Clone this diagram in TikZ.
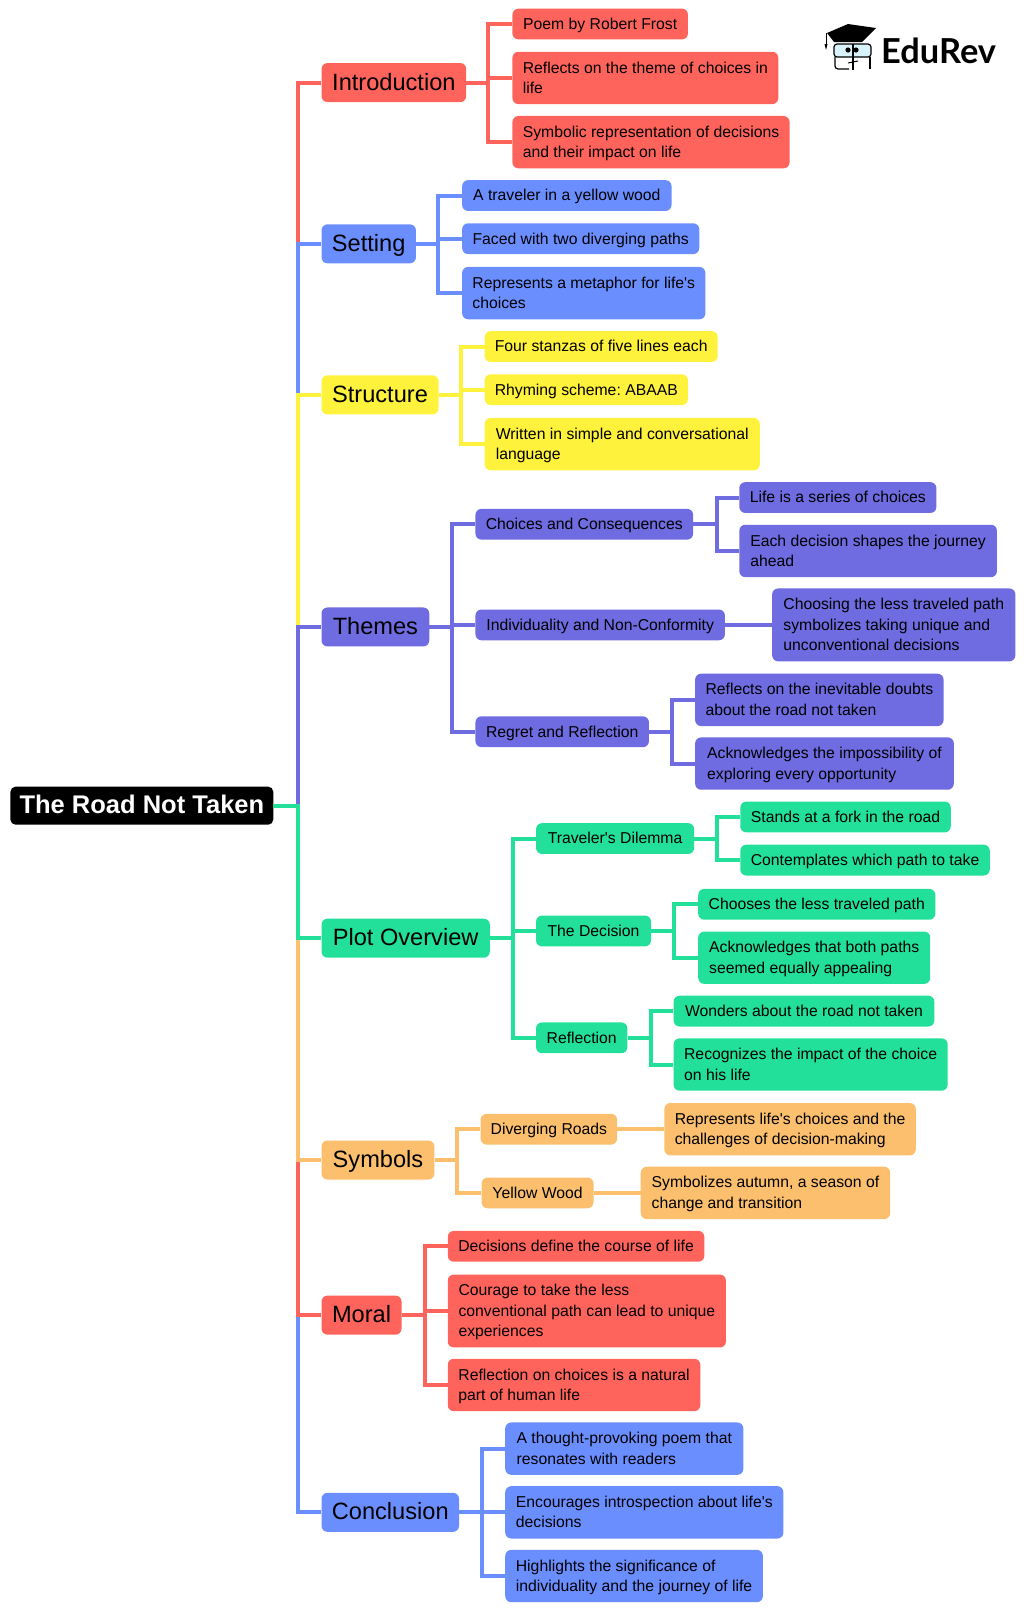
\documentclass[tikz,border=0pt]{standalone}
\usepackage{fontspec}
\setmainfont{Liberation Sans}[Ligatures=TeXOff]
\newfontfamily\lato{Lato}
\frenchspacing
\definecolor{cred}{HTML}{FF645C}
\definecolor{cblue}{HTML}{6B8EFF}
\definecolor{cyel}{HTML}{FFF23C}
\definecolor{cpur}{HTML}{6F6BE0}
\definecolor{cgrn}{HTML}{22E09A}
\definecolor{corg}{HTML}{FBBF6E}
\tikzset{
  rootbox/.style={fill=black,text=white,rounded corners=5pt,inner sep=0pt,anchor=west,align=center,text depth=3pt,font=\fontsize{25.5}{30}\selectfont\bfseries},
  mainbox/.style={fill=#1,rounded corners=6pt,inner sep=0pt,anchor=west,align=left,text depth=1.8pt,font=\fontsize{23.6}{28}\selectfont},
  leafbox/.style={fill=#1,rounded corners=6pt,inner sep=0pt,anchor=west,align=left,text depth=0.8pt,font=\fontsize{15.75}{20.5}\selectfont},
  link/.style={draw=#1,line width=4pt,line join=miter}
}
\newcommand\bx[7]{%
  \pgfmathsetlengthmacro\bxw{(#4-#3)*1.0265}%
  \pgfmathsetlengthmacro\bxh{#6*1.0265}%
  \pgfmathsetmacro\bxy{#5+0.4+0.0006*#5}%
  \node[#2,minimum width=\bxw,minimum height=\bxh] (#1) at (#3,\bxy) {#7};}
\begin{document}
\begin{tikzpicture}[x=1.0265pt,y=-1.0265pt]
\useasboundingbox (0,0) rectangle (997.56,1569.4);
% root
\bx{root}{rootbox}{10}{266}{784}{37}{The Road Not Taken}
% main
\bx{intro}{mainbox=cred}{313}{454}{80}{38}{Introduction}
\bx{setting}{mainbox=cblue}{313}{405}{237}{38}{Setting}
\bx{struct}{mainbox=cyel}{313}{427}{384}{38}{Structure}
\bx{themes}{mainbox=cpur}{313}{418}{610}{38}{Themes}
\bx{plot}{mainbox=cgrn}{313}{477}{913}{38}{Plot Overview}
\bx{symb}{mainbox=corg}{313}{423}{1129}{38}{Symbols}
\bx{moral}{mainbox=cred}{313}{391}{1280}{38}{Moral}
\bx{concl}{mainbox=cblue}{313}{447}{1472}{38}{Conclusion}
% intro
\bx{i1}{leafbox=cred}{499}{670}{23}{30}{Poem by Robert Frost}
\bx{i2}{leafbox=cred}{499}{758}{75.5}{51}{Reflects on the theme of choices in\\life}
\bx{i3}{leafbox=cred}{499}{769}{138}{51}{Symbolic representation of decisions\\and their impact on life}
% setting
\bx{s1}{leafbox=cblue}{450}{654}{190}{30}{A traveler in a yellow wood}
\bx{s2}{leafbox=cblue}{450}{681}{232}{30}{Faced with two diverging paths}
\bx{s3}{leafbox=cblue}{450}{687}{285}{51}{Represents a metaphor for life's\\choices}
% structure
\bx{t1}{leafbox=cyel}{472}{699}{337}{30}{Four stanzas of five lines each}
\bx{t2}{leafbox=cyel}{472}{670}{379}{30}{Rhyming scheme: ABAAB}
\bx{t3}{leafbox=cyel}{472}{740}{432}{51}{Written in simple and conversational\\language}
% themes
\bx{h1}{leafbox=cpur}{463}{675}{510}{30}{Choices and Consequences}
\bx{h2}{leafbox=cpur}{463}{706}{608}{30}{Individuality and Non-Conformity}
\bx{h3}{leafbox=cpur}{463}{632}{712}{30}{Regret and Reflection}
\bx{h11}{leafbox=cpur}{720}{912}{484}{30}{Life is a series of choices}
\bx{h12}{leafbox=cpur}{720}{971}{536}{51}{Each decision shapes the journey\\ahead}
\bx{h21}{leafbox=cpur}{752}{989}{608}{71}{Choosing the less traveled path\\symbolizes taking unique and\\unconventional decisions}
\bx{h31}{leafbox=cpur}{677}{919}{681}{51}{Reflects on the inevitable doubts\\about the road not taken}
\bx{h32}{leafbox=cpur}{677}{929}{743}{51}{Acknowledges the impossibility of\\exploring every opportunity}
% plot
\bx{p1}{leafbox=cgrn}{522}{676}{816}{30}{Traveler's Dilemma}
\bx{p2}{leafbox=cgrn}{522}{634}{906}{30}{The Decision}
\bx{p3}{leafbox=cgrn}{522}{611}{1010}{30}{Reflection}
\bx{p11}{leafbox=cgrn}{721}{926}{795}{30}{Stands at a fork in the road}
\bx{p12}{leafbox=cgrn}{721}{964}{837}{30}{Contemplates which path to take}
\bx{p21}{leafbox=cgrn}{680}{911}{880}{30}{Chooses the less traveled path}
\bx{p22}{leafbox=cgrn}{680}{906}{932}{51}{Acknowledges that both paths\\seemed equally appealing}
\bx{p31}{leafbox=cgrn}{656}{910}{984}{30}{Wonders about the road not taken}
\bx{p32}{leafbox=cgrn}{656}{923}{1036}{51}{Recognizes the impact of the choice\\on his life}
% symbols
\bx{y1}{leafbox=corg}{468}{601}{1099}{30}{Diverging Roads}
\bx{y2}{leafbox=corg}{469}{578}{1161}{30}{Yellow Wood}
\bx{y11}{leafbox=corg}{647}{892}{1099}{51}{Represents life's choices and the\\challenges of decision-making}
\bx{y21}{leafbox=corg}{624}{867}{1161}{51}{Symbolizes autumn, a season of\\change and transition}
% moral
\bx{m1}{leafbox=cred}{436}{686}{1213}{30}{Decisions define the course of life}
\bx{m2}{leafbox=cred}{436}{707}{1276}{71}{Courage to take the less\\conventional path can lead to unique\\experiences}
\bx{m3}{leafbox=cred}{436}{682}{1348}{51}{Reflection on choices is a natural\\part of human life}
% conclusion
\bx{c1}{leafbox=cblue}{492}{724}{1410}{51}{A thought-provoking poem that\\resonates with readers}
\bx{c2}{leafbox=cblue}{492}{763}{1472}{51}{Encourages introspection about life's\\decisions}
\bx{c3}{leafbox=cblue}{492}{743}{1534}{51}{Highlights the significance of\\individuality and the journey of life}
% junction coordinates
\coordinate (jr) at (290.5,0);
\coordinate (ji) at (475.5,0);
\coordinate (js) at (427,0);
\coordinate (jt) at (449.5,0);
\coordinate (jh) at (440,0);
\coordinate (jh1) at (698,0);
\coordinate (jh3) at (655,0);
\coordinate (jp) at (499.5,0);
\coordinate (jp1) at (698.5,0);
\coordinate (jp2) at (657,0);
\coordinate (jp3) at (634,0);
\coordinate (jy) at (445.5,0);
\coordinate (jm) at (414,0);
\coordinate (jc) at (470,0);
% trunk, painted from the far ends inward
\foreach \n/\c in {intro/cred,setting/cblue,struct/cyel,themes/cpur,concl/cblue,moral/cred,symb/corg,plot/cgrn}
  \draw[link=\c] (root.east) -- (root.east -| jr) |- (\n.west);
\foreach \p/\j/\k/\c in {intro/ji/i1/cred,intro/ji/i2/cred,intro/ji/i3/cred,
  setting/js/s1/cblue,setting/js/s2/cblue,setting/js/s3/cblue,
  struct/jt/t1/cyel,struct/jt/t2/cyel,struct/jt/t3/cyel,
  themes/jh/h1/cpur,themes/jh/h2/cpur,themes/jh/h3/cpur,
  h1/jh1/h11/cpur,h1/jh1/h12/cpur,h3/jh3/h31/cpur,h3/jh3/h32/cpur,
  plot/jp/p1/cgrn,plot/jp/p2/cgrn,plot/jp/p3/cgrn,
  p1/jp1/p11/cgrn,p1/jp1/p12/cgrn,p2/jp2/p21/cgrn,p2/jp2/p22/cgrn,p3/jp3/p31/cgrn,p3/jp3/p32/cgrn,
  symb/jy/y1/corg,symb/jy/y2/corg,
  moral/jm/m1/cred,moral/jm/m2/cred,moral/jm/m3/cred,
  concl/jc/c1/cblue,concl/jc/c2/cblue,concl/jc/c3/cblue}
  \draw[link=\c] (\p.east) -- (\p.east -| \j) |- (\k.west);
\draw[link=cpur] (h2.east) -- (h21.west);
\draw[link=corg] (y1.east) -- (y11.west);
\draw[link=corg] (y2.east) -- (y21.west);
% logo
\begin{scope}[x=1pt,y=-1pt]
\fill (827,33) -- (848,24) -- (876,28) -- (862,42) -- (834,42) -- cycle;
\draw[line width=0.8pt] (826,33) -- (826,46);
\fill (824.5,44) -- (827.5,44) -- (826,50) -- cycle;
\draw[line width=1.2pt,fill=cyan!15,rounded corners=3pt] (834,44) rectangle (871,57);
\draw[line width=1.2pt,rounded corners=3pt] (835,57) -- (835,69) -- (849,69);
\draw[line width=1.2pt,rounded corners=3pt] (870,57) -- (870,69);
\draw[line width=1.2pt] (853,44) -- (853,70);
\draw[line width=1pt] (848,63) -- (858,61);
\fill (848,50) circle (2.6pt) (856,50) circle (2.6pt);
\node[font=\lato\bfseries\fontsize{34.4}{36}\selectfont,inner sep=0pt,anchor=west] (logo) at (881,51) {EduRev};
\end{scope}
\end{tikzpicture}
\end{document}
